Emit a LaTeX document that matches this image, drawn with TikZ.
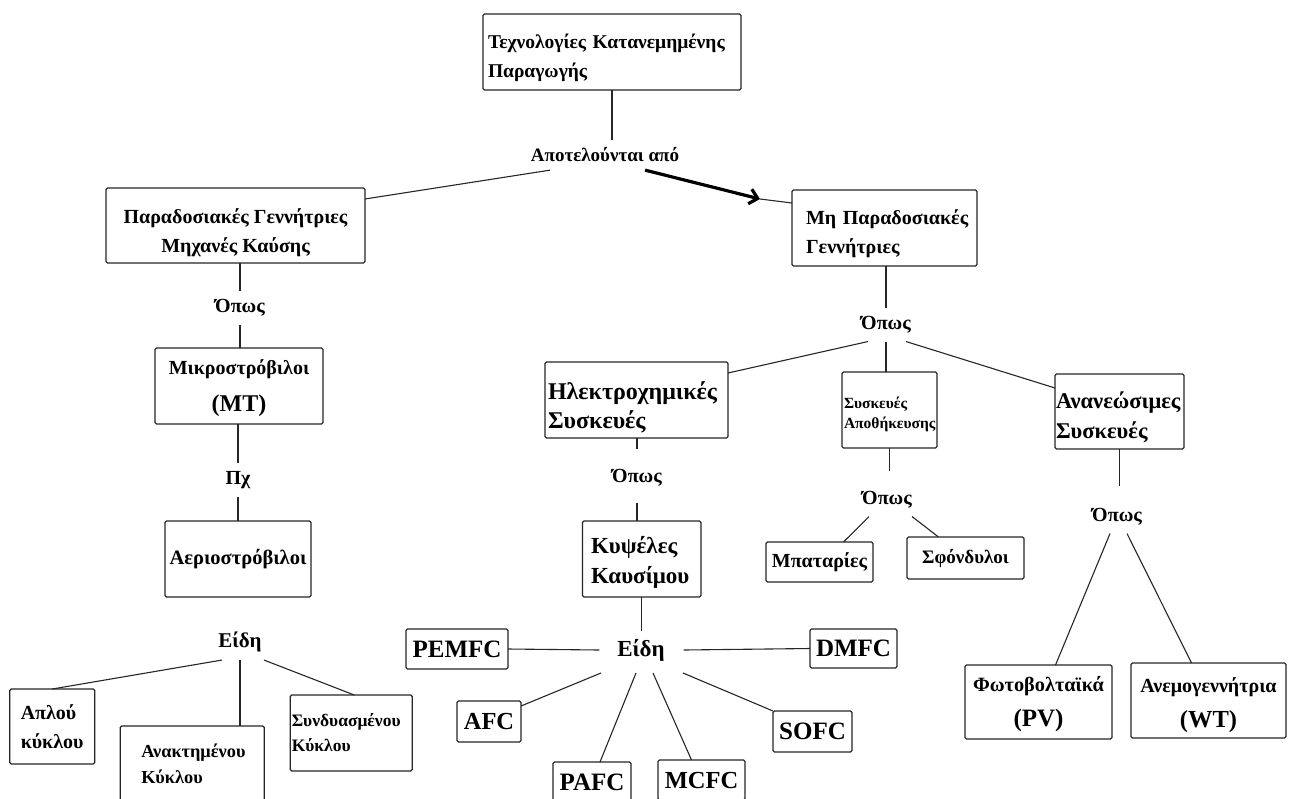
\documentclass[tikz,border=0pt]{standalone}
\usepackage{fontspec}
\setmainfont{Liberation Serif}
\usetikzlibrary{arrows.meta,calc}
\newcommand{\fsz}[2]{\fontsize{#1}{#2}\selectfont}
\newcommand{\lift}[1]{\rule{0pt}{#1pt}}
\begin{document}
\begin{tikzpicture}[x=1pt,y=-1pt,
  box/.style={draw=black!85, line width=1.2pt, rounded corners=1.5pt, fill=white, inner sep=0pt, outer sep=0pt, font=\bfseries\fsz{20}{29}},
  cbox/.style={box, align=center},
  lbox/.style={box, align=left},
  lbl/.style={font=\bfseries\fsz{20}{24}, inner xsep=1pt, inner ysep=8pt, outer sep=0pt},
  conn/.style={draw=black!85, line width=1.1pt},
  arr/.style={draw=black, line width=3.2pt, -{Straight Barb[length=8pt,width=15pt]}},
]
\useasboundingbox (0,0) rectangle (1289,798);

% ---- boxes ----
\node[lbox, text width=248pt, inner xsep=5pt, minimum height=76pt, font=\bfseries\fsz{19.5}{29}] (top) at (612,52) {\lift{26.5}\mbox{Τεχνολογίες Κατανεμημένης}\\Παραγωγής};
\node[cbox, minimum width=259pt, minimum height=75pt] (trad) at (235.5,225.5) {\lift{29.5}Παραδοσιακές Γεννήτριες\\Μηχανές Καύσης};
\node[lbox, text width=157pt, inner xsep=14pt, minimum height=76pt] (nontrad) at (884.5,228) {\lift{25.8}\mbox{Μη Παραδοσιακές}\\Γεννήτριες};
\node[cbox, minimum width=168pt, minimum height=76pt, font=\bfseries\fsz{20}{37}] (micro) at (239,386) {\lift{19.8}Μικροστρόβιλοι\\{\fsz{24}{37}(MT)}};
\node[cbox, minimum width=146pt, minimum height=76pt, font=\bfseries\fsz{20.5}{29}] (aerio) at (238,559) {Αεριοστρόβιλοι};
\node[lbox, text width=63pt, inner xsep=11pt, minimum height=75pt] (aplou) at (52.25,726.5) {Απλού\\κύκλου};
\node[lbox, text width=102pt, inner xsep=21pt, minimum height=76pt, font=\bfseries\fsz{18.3}{26}] (anakt) at (192.25,764) {\mbox{Ανακτημένου}\\Κύκλου};
\node[lbox, text width=119pt, inner xsep=1.5pt, minimum height=76pt, font=\bfseries\fsz{17.5}{25}] (syndy) at (351.25,733) {\mbox{Συνδυασμένου}\\Κύκλου};

\node[lbox, text width=177pt, inner xsep=3pt, minimum height=76pt, font=\bfseries\fsz{24}{29}] (elec) at (636.5,400) {\lift{31.6}\mbox{Ηλεκτροχημικές}\\Συσκευές};
\node[lbox, text width=91pt, inner xsep=2pt, minimum height=76pt, font=\bfseries\fsz{15.5}{20}] (stor) at (889.5,410) {\lift{19.7}Συσκευές\\\mbox{Αποθήκευσης}};
\node[lbox, text width=127pt, inner xsep=1pt, minimum height=75pt, font=\bfseries\fsz{22.5}{30}] (renew) at (1119.5,411.5) {\lift{27.5}\mbox{Ανανεώσιμες}\\Συσκευές};
\node[lbox, text width=101.5pt, inner xsep=8.5pt, minimum height=76pt, font=\bfseries\fsz{23}{30}] (fuel) at (641.75,559) {\lift{23.9}Κυψέλες\\\mbox{Καυσίμου}};

\node[cbox, minimum width=107pt, minimum height=40pt] (bat) at (819.5,562) {Μπαταρίες};
\node[cbox, minimum width=117pt, minimum height=42pt, font=\bfseries\fsz{19}{24}] (fly) at (965.5,558) {Σφόνδυλοι};
\node[cbox, minimum width=147pt, minimum height=74pt, font=\bfseries\fsz{20.3}{35}] (pv) at (1038.5,702) {\lift{20}Φωτοβολταϊκά\\{\fsz{25}{35}(PV)}};
\node[cbox, minimum width=155pt, minimum height=75pt, font=\bfseries\fsz{20}{35}] (wt) at (1208.5,700.5) {\lift{23.8}Ανεμογεννήτρια\\{\fsz{24.5}{35}(WT)}};

\node[cbox, minimum width=102pt, minimum height=40pt, font=\bfseries\fsz{25}{30}] (pemfc) at (457,649) {PEMFC};
\node[cbox, minimum width=87pt, minimum height=39pt, font=\bfseries\fsz{25}{30}] (dmfc) at (853.5,648.5) {DMFC};
\node[cbox, minimum width=64pt, minimum height=41pt, font=\bfseries\fsz{24.5}{30}] (afc) at (489,721.5) {AFC};
\node[cbox, minimum width=79pt, minimum height=41pt, font=\bfseries\fsz{25}{30}] (sofc) at (812.5,731.5) {SOFC};
\node[cbox, minimum width=78pt, minimum height=40pt, font=\bfseries\fsz{25}{30}] (pafc) at (592,782) {PAFC};
\node[cbox, minimum width=87pt, minimum height=40pt, font=\bfseries\fsz{24.5}{30}] (mcfc) at (701.5,780) {MCFC};

% ---- labels ----
\node[lbl, font=\bfseries\fsz{19}{24}] (apot) at (605,155) {Αποτελούνται από};
\node[lbl] (opws1) at (240,308) {Όπως};
\node[lbl] (px) at (238,480) {Πχ};
\node[lbl, font=\bfseries\fsz{21}{24}] (eidi1) at (240,642) {Είδη};
\node[lbl] (opws2) at (886,325) {Όπως};
\node[lbl] (opws3) at (637,478) {Όπως};
\node[lbl] (opws4) at (887,500) {Όπως};
\node[lbl] (opws5) at (1117,517) {Όπως};
\node[lbl, font=\bfseries\fsz{23}{26}] (eidi2) at (641,650) {Είδη};

\coordinate (tip) at (760,199);

% ---- connectors ----
\draw[conn] (top.south) -- (top.south |- apot.north);
\draw[conn] ([xshift=20pt]apot.south west) -- ([yshift=-11pt]trad.north east);
\draw[arr] ([xshift=-35pt]apot.south east) -- (tip);
\draw[conn] (tip) -- ([yshift=-13pt]nontrad.north west);

\draw[conn] (trad.south -| opws1.north) -- (opws1.north);
\draw[conn] (opws1.south) -- (opws1.south |- micro.north);
\draw[conn] (micro.south -| px.north) -- (px.north);
\draw[conn] (px.south) -- (px.south |- aerio.north);
\draw[conn] ([xshift=-18pt]eidi1.south) -- (aplou.north);
\draw[conn] (eidi1.south) -- (eidi1.south |- anakt.north);
\draw[conn] ([xshift=24pt]eidi1.south) -- ([xshift=3pt]syndy.north);

\draw[conn] (nontrad.south -| opws2.north) -- (opws2.north);
\draw[conn] ([xshift=-18pt]opws2.south) -- ([yshift=-11pt]elec.north east);
\draw[conn] (opws2.south) -- (opws2.south |- stor.north);
\draw[conn] ([xshift=20pt]opws2.south) -- ([yshift=-14pt]renew.north west);

\draw[conn] (elec.south -| opws3.north) -- ($(opws3.north)+(0,-12)$);
\draw[conn] ($(opws3.south)+(0,8)$) -- (opws3.south |- fuel.north);
\draw[conn] (fuel.south) -- (fuel.south |- eidi2.north);
\draw[conn] (pemfc.east) -- ([xshift=-17pt]eidi2.west);
\draw[conn] ([xshift=18pt]eidi2.east) -- (dmfc.west);
\draw[conn] ([xshift=-40pt,yshift=-4pt]eidi2.south) -- ([yshift=-5pt]afc.north east);
\draw[conn] ([xshift=-5pt,yshift=-4pt]eidi2.south) -- ([xshift=8pt]pafc.north);
\draw[conn] ([xshift=12pt,yshift=-4pt]eidi2.south) -- ([xshift=-10pt]mcfc.north);
\draw[conn] ([xshift=42pt,yshift=-4pt]eidi2.south) -- (sofc.north west);

\draw[conn] (stor.south) -- ($(stor.south |- opws4.north)+(0,-12)$);
\draw[conn] ([xshift=-18pt]opws4.south) -- ([xshift=24pt]bat.north);
\draw[conn] ([xshift=25pt]opws4.south) -- ([xshift=-27pt]fly.north);

\draw[conn] (renew.south) -- ($(renew.south |- opws5.north)+(0,-14)$);
\draw[conn] ([xshift=-7pt]opws5.south) -- ([xshift=17pt]pv.north);
\draw[conn] ([xshift=10pt]opws5.south) -- ([xshift=-17pt]wt.north);
\end{tikzpicture}
\end{document}
